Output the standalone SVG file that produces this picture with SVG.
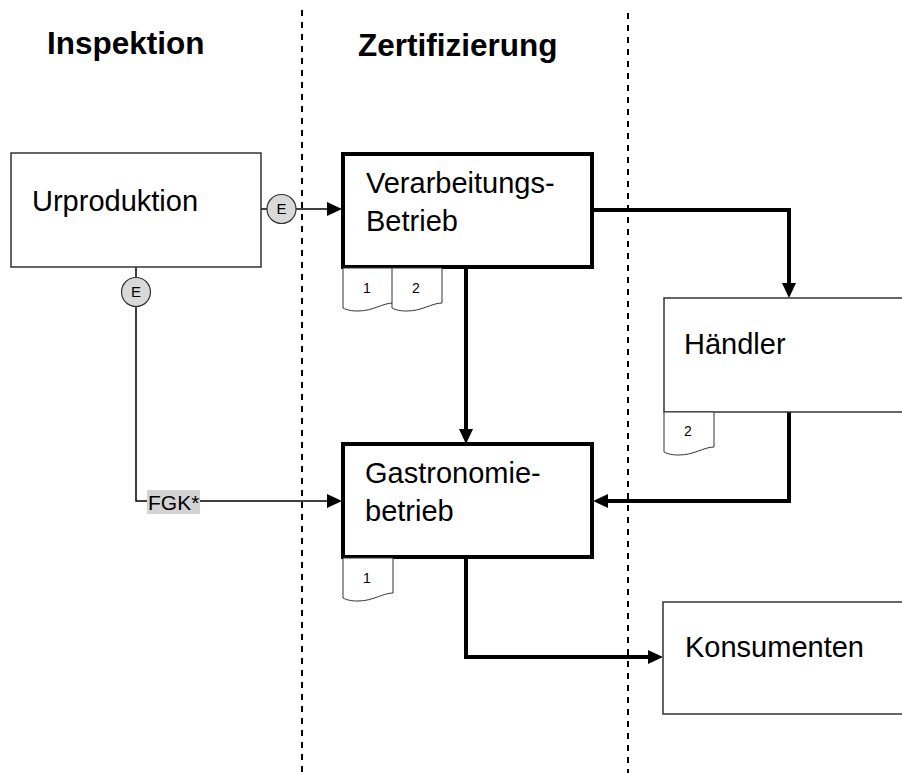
<svg xmlns="http://www.w3.org/2000/svg" width="902" height="773" viewBox="0 0 902 773">
<style>
text{font-family:"Liberation Sans",Arial,sans-serif;fill:#000}
.title{font-size:31.5px;font-weight:bold}
.lbl{font-size:29px}
.small{font-size:14px;text-anchor:middle}
.thin{fill:#fff;stroke:#333;stroke-width:1.5}
.thick{fill:#fff;stroke:#000;stroke-width:4}
.doc{fill:#fff;stroke:#333;stroke-width:1}
.circ{fill:#d9d9d9;stroke:#333;stroke-width:1.2}
.lane{stroke:#000;stroke-width:2;stroke-dasharray:6 6;fill:none}
.c-thick{fill:none;stroke:#000;stroke-width:4;stroke-linejoin:miter}
.c-thin{fill:none;stroke:#000;stroke-width:1.5}
</style>
<defs>
<marker id="arr" markerUnits="userSpaceOnUse" markerWidth="16" markerHeight="15" refX="7" refY="7" orient="auto">
<path d="M0,0 L15,7 L0,14 Z" fill="#000"/>
</marker>
<path id="docshape" d="M0,0 H50 V35 C40,35 30,43 15,43 C8,43 4,42 0,40 Z"/>
</defs>
<rect width="902" height="773" fill="#fff"/>

<g id="lanes">
<line class="lane" x1="302" y1="10" x2="302" y2="773"/>
<line class="lane" x1="628" y1="13" x2="628" y2="773"/>
<text class="title" x="47" y="54">Inspektion</text>
<text class="title" x="358" y="56">Zertifizierung</text>
</g>

<g id="connectors">
<path class="c-thick" d="M466,267 V436" marker-end="url(#arr)"/>
<path class="c-thick" d="M592,210 H789 V290" marker-end="url(#arr)"/>
<path class="c-thick" d="M789,412 V501 H601" marker-end="url(#arr)"/>
<path class="c-thick" d="M466,557 V657 H655" marker-end="url(#arr)"/>
<path class="c-thin" d="M261,209 H267"/>
<path class="c-thin" d="M296,209 H334" marker-end="url(#arr)"/>
<path class="c-thin" d="M136,267 V277"/>
<path class="c-thin" d="M136,306 V501 H334" marker-end="url(#arr)"/>
</g>

<g id="urproduktion">
<rect class="thin" x="11" y="153" width="250" height="114"/>
<text class="lbl" x="32" y="211">Urproduktion</text>
</g>

<g id="e-right">
<circle class="circ" cx="281.5" cy="209" r="14.5"/>
<text x="281.5" y="214" font-size="15" text-anchor="middle">E</text>
</g>

<g id="e-bottom">
<circle class="circ" cx="136" cy="292" r="14.5"/>
<text x="136" y="297" font-size="15" text-anchor="middle">E</text>
</g>

<g id="fgk">
<rect x="147" y="490" width="53" height="24" fill="#d3d3d3"/>
<text x="148" y="510" font-size="21">FGK*</text>
</g>

<g id="verarbeitung">
<rect class="thick" x="343" y="154" width="249" height="113"/>
<text class="lbl" x="366" y="193">Verarbeitungs-</text>
<text class="lbl" x="366" y="231">Betrieb</text>
<use href="#docshape" class="doc" x="343" y="268"/>
<use href="#docshape" class="doc" x="392" y="268"/>
<text class="small" x="367" y="293">1</text>
<text class="small" x="416" y="293">2</text>
</g>

<g id="gastronomie">
<rect class="thick" x="343" y="444" width="249" height="113"/>
<text class="lbl" x="365" y="483">Gastronomie-</text>
<text class="lbl" x="365" y="521">betrieb</text>
<use href="#docshape" class="doc" x="343" y="558"/>
<text class="small" x="367" y="583">1</text>
</g>

<g id="haendler">
<rect class="thin" x="664" y="298" width="250" height="114"/>
<text class="lbl" x="684" y="354">Händler</text>
<use href="#docshape" class="doc" x="664" y="412"/>
<text class="small" x="688" y="436">2</text>
</g>

<g id="konsumenten">
<rect class="thin" x="663" y="602" width="250" height="112"/>
<text class="lbl" x="685" y="657">Konsumenten</text>
</g>
</svg>
